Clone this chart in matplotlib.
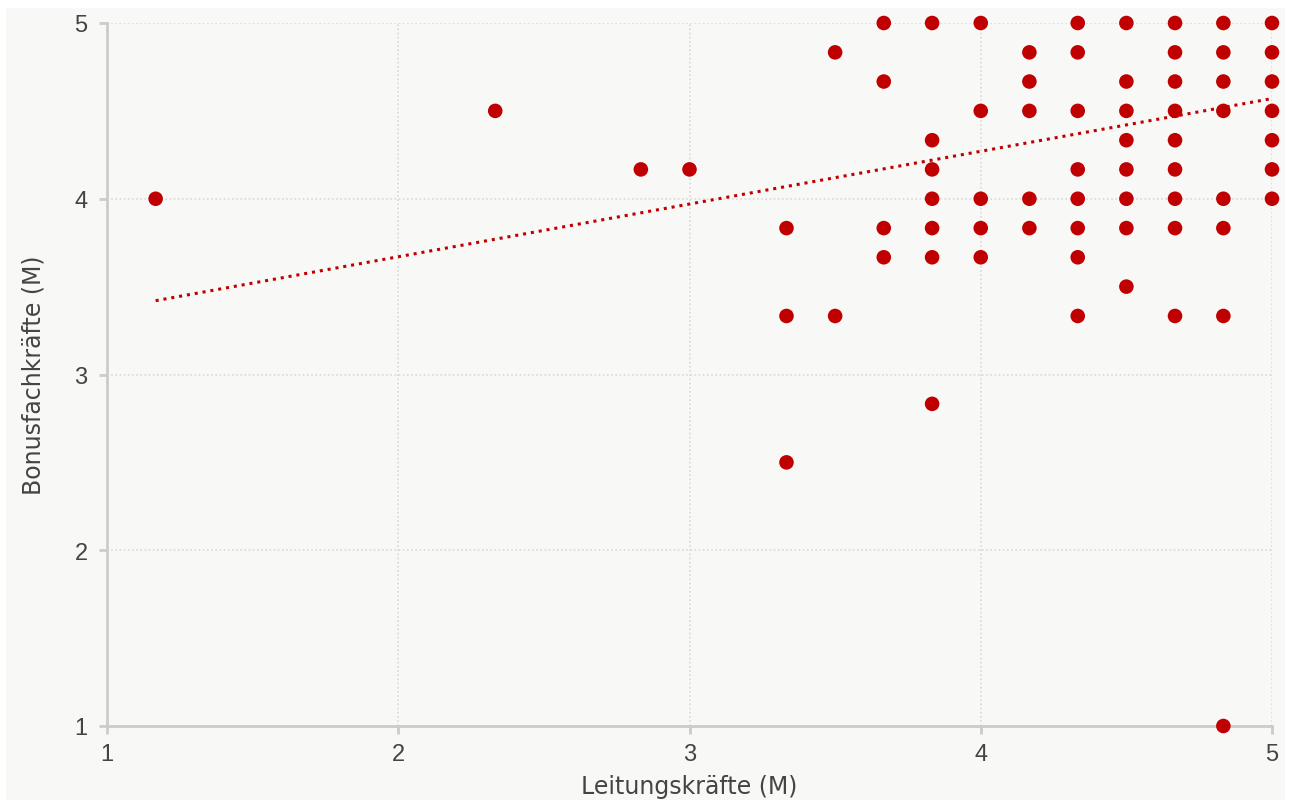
import matplotlib.pyplot as plt
from matplotlib.patches import Rectangle

# Leitungskräfte (x) vs. Bonusfachkräfte (y), Mittelwerte
leitung = [
    1.167, 2.333, 2.833, 3.0,
    3.333, 3.333, 3.333,
    3.5, 3.5,
    3.667, 3.667, 3.667, 3.667,
    3.833, 3.833, 3.833, 3.833, 3.833, 3.833, 3.833,
    4.0, 4.0, 4.0, 4.0, 4.0,
    4.167, 4.167, 4.167, 4.167, 4.167,
    4.333, 4.333, 4.333, 4.333, 4.333, 4.333, 4.333, 4.333,
    4.5, 4.5, 4.5, 4.5, 4.5, 4.5, 4.5, 4.5,
    4.667, 4.667, 4.667, 4.667, 4.667, 4.667, 4.667, 4.667, 4.667,
    4.833, 4.833, 4.833, 4.833, 4.833, 4.833, 4.833, 4.833,
    5.0, 5.0, 5.0, 5.0, 5.0, 5.0, 5.0,
]
bonus = [
    4.0, 4.5, 4.167, 4.167,
    3.833, 3.333, 2.5,
    4.833, 3.333,
    5.0, 4.667, 3.833, 3.667,
    5.0, 4.333, 4.167, 4.0, 3.833, 3.667, 2.833,
    5.0, 4.5, 4.0, 3.833, 3.667,
    4.833, 4.667, 4.5, 4.0, 3.833,
    5.0, 4.833, 4.5, 4.167, 4.0, 3.833, 3.667, 3.333,
    5.0, 4.667, 4.5, 4.333, 4.167, 4.0, 3.833, 3.5,
    5.0, 4.833, 4.667, 4.5, 4.333, 4.167, 4.0, 3.833, 3.333,
    5.0, 4.833, 4.667, 4.5, 4.0, 3.833, 3.333, 1.0,
    5.0, 4.833, 4.667, 4.5, 4.333, 4.167, 4.0,
]

# lineare Trendlinie
trend_x = [1.167, 5.0]
trend_y = [3.42, 4.57]

ticks = [1, 2, 3, 4, 5]

red = '#c00000'
axis_gray = '#cccccc'

fig = plt.figure(figsize=(12.89, 8.03), dpi=100)
fig.patch.set_facecolor('white')
fig.patches.append(Rectangle((6 / 1289, 2 / 803), 1279 / 1289, 792 / 803,
                             transform=fig.transFigure, facecolor='#f8f8f7',
                             edgecolor='none', zorder=-10))

ax = fig.add_axes([107 / 1289, 1 - 727 / 803, (1272 - 107) / 1289, (727 - 24) / 803])
ax.set_facecolor('none')

ax.plot(trend_x, trend_y, linestyle=(0, (1, 1.6)), color=red, linewidth=2.2, zorder=2)
ax.scatter(leitung, bonus, s=110, color=red, edgecolors='none', zorder=3, clip_on=False)

ax.set_xlim(1, 5)
ax.set_ylim(1, 5)
ax.set_xticks(ticks)
ax.set_yticks(ticks)

ax.grid(True, linestyle=(0, (1, 1.5)), color='#d9d9d9', linewidth=1.2, zorder=0)

for s in ['top', 'right']:
    ax.spines[s].set_visible(False)
for s in ['left', 'bottom']:
    ax.spines[s].set_color(axis_gray)
    ax.spines[s].set_linewidth(2)

ax.tick_params(axis='both', colors=axis_gray, width=2, length=6,
               labelcolor='#444444', labelsize=17)
for lab in ax.get_xticklabels() + ax.get_yticklabels():
    lab.set_fontfamily('Liberation Sans')
ax.tick_params(axis='x', pad=6)
ax.tick_params(axis='y', pad=8)

ax.set_xlabel('Leitungskräfte (M)', fontsize=17, color='#444444', labelpad=7)
ax.set_ylabel('Bonusfachkräfte (M)', fontsize=17, color='#444444', labelpad=21)

fig.savefig('out.png', dpi=100, facecolor=fig.get_facecolor())
